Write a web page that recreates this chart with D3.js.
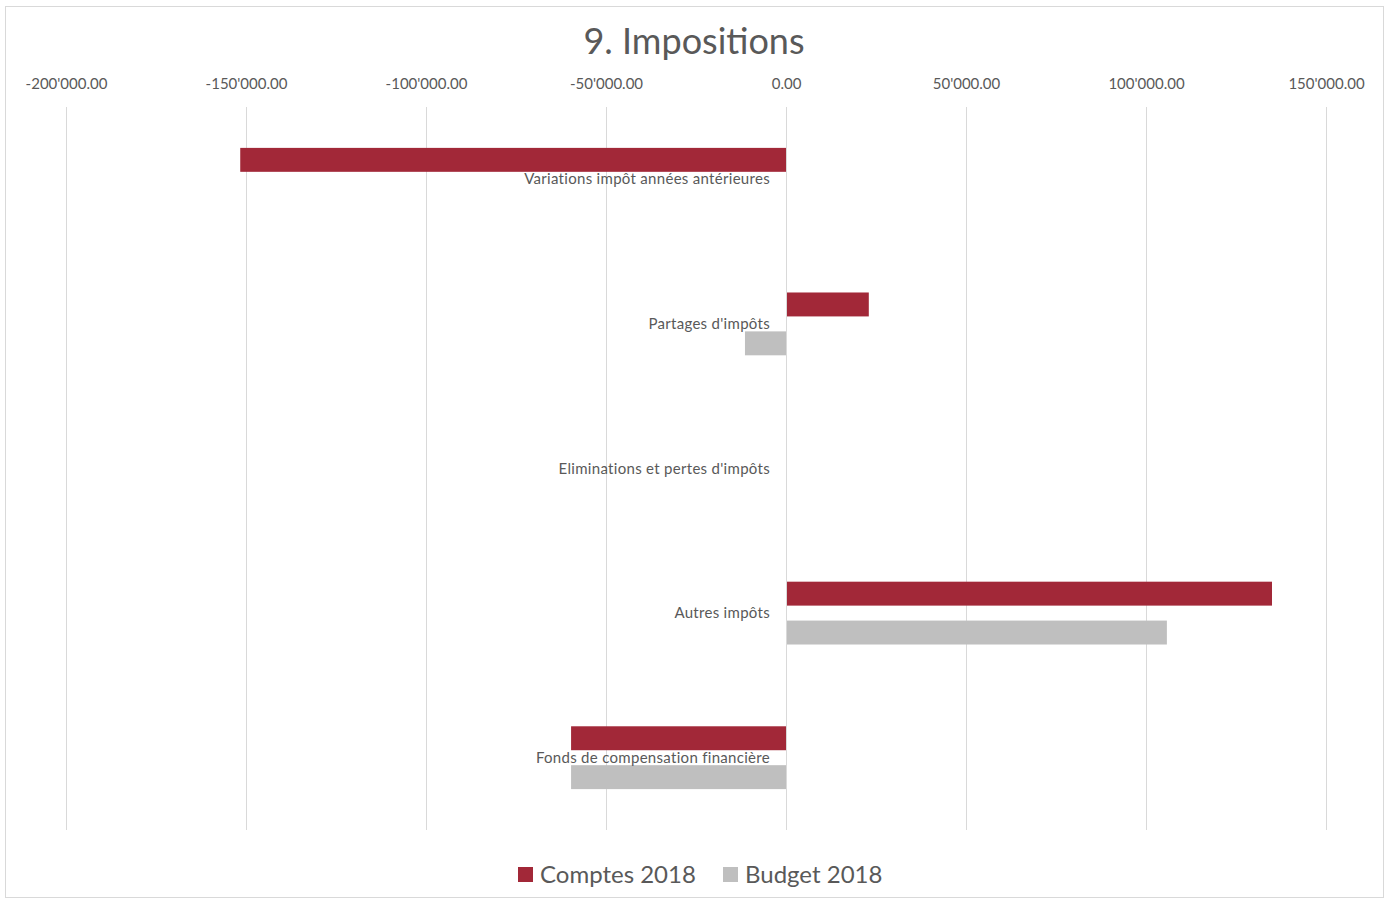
<!DOCTYPE html>
<html><head><meta charset="utf-8">
<script src="https://cdn.jsdelivr.net/npm/d3@7"></script>
<style>body{margin:0;background:#fff;}svg{display:block;font-family:Lato,"Open Sans",sans-serif;}</style>
</head><body>
<svg id="c" width="1389" height="899"></svg>
<script>
const categories = ["Variations impôt années antérieures","Partages d'impôts","Eliminations et pertes d'impôts","Autres impôts","Fonds de compensation financière"];
const comptes2018 = [-151600, 23000, 0, 135000, -59700];
const budget2018 = [0, -11400, 0, 105800, -59700];
const seriesNames = ["Comptes 2018","Budget 2018"];
const tickValues = [-200000,-150000,-100000,-50000,0,50000,100000,150000];
const colors = ["#A22838","#BFBFBF"];

const svg = d3.select("#c");
svg.append("rect").attr("x",5.5).attr("y",6.5).attr("width",1378).attr("height",891).attr("fill","#fff").attr("stroke","#D9D9D9");

const x = d3.scaleLinear().domain([-200000,150000]).range([66,1326]);
const y = d3.scaleBand().domain(categories).range([107,830]);

svg.append("text").attr("x",694).attr("y",54).attr("text-anchor","middle").attr("font-size",36).attr("fill","#595959").text("9. Impositions");

const fmt = v => { const s = d3.format(",.2f")(v); return s.replace(/,/g,"'").replace("−","-"); };
const ax = d3.axisTop(x).tickValues(tickValues).tickSize(0).tickFormat(fmt);
const g = svg.append("g").attr("transform","translate(0,92)").call(ax);
g.select(".domain").remove();
g.selectAll("text").attr("font-size",15).attr("fill","#595959").attr("font-family","Lato,'Open Sans',sans-serif");

svg.append("g").selectAll("line").data(tickValues).join("line")
  .attr("x1",d=>x(d)+0.5).attr("x2",d=>x(d)+0.5).attr("y1",107).attr("y2",830)
  .attr("stroke","#D9D9D9").attr("stroke-width",1);

const bw = y.bandwidth();
const barH = bw*24/145, off1 = bw*41/145, off2 = bw*80/145;
const data = categories.map((c,i)=>({c, v:[comptes2018[i], budget2018[i]]}));
[0,1].forEach(s=>{
  svg.append("g").selectAll("rect").data(data).join("rect")
    .attr("x",d=>Math.min(x(0),x(d.v[s])))
    .attr("width",d=>Math.abs(x(d.v[s])-x(0)))
    .attr("y",d=>y(d.c)+(s===0?off1:off2))
    .attr("height",barH)
    .attr("fill",colors[s]);
});
svg.append("line").attr("x1",x(0)+0.5).attr("x2",x(0)+0.5).attr("y1",107).attr("y2",830).attr("stroke","#D9D9D9");

svg.append("g").selectAll("text").data(categories).join("text")
  .attr("x",770).attr("y",d=>y(d)+bw/2+5).attr("text-anchor","end")
  .attr("font-size",15).attr("letter-spacing",0.3).attr("fill","#595959").text(d=>d);

const leg = svg.append("g");
const items = [{n:seriesNames[0],c:colors[0],x:518},{n:seriesNames[1],c:colors[1],x:723}];
items.forEach(it=>{
  leg.append("rect").attr("x",it.x).attr("y",867).attr("width",15).attr("height",15).attr("fill",it.c);
  leg.append("text").attr("x",it.x+22).attr("y",883).attr("font-size",24).attr("fill","#595959").text(it.n);
});
</script>
</body></html>
